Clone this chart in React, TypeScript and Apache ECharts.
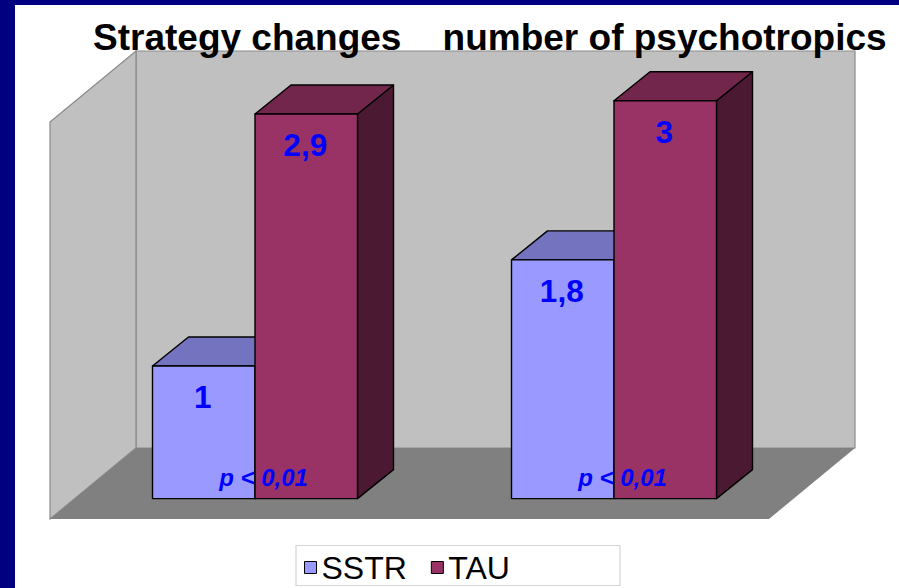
import React, { useEffect, useRef } from "react";
import * as echarts from "echarts";

const categories = ["Strategy changes", "number of psychotropics"];
const titleText = "Strategy changes    number of psychotropics";
const sstrValues = [1, 1.8];
const tauValues = [2.9, 3];
const pLabels = ["p < 0,01", "p < 0,01"];

const DEPTH_X = 36;
const DEPTH_Y = 29;
const BAR_W = 102.5;
const FONT = '"Liberation Sans", Arial, sans-serif';

const bar3d = (side: number, front: string, top: string, dark: string) => (params: any, api: any) => {
  const cat = api.value(0);
  const val = api.value(1);
  const p = api.coord([cat, val]);
  const b = api.coord([cat, 0]);
  const x0 = side < 0 ? p[0] - BAR_W : p[0];
  const x1 = x0 + BAR_W;
  const stroke = { stroke: "#000", lineWidth: 1.4, lineJoin: "round" };
  return {
    type: "group",
    children: [
      { type: "polygon", shape: { points: [[x1, p[1]], [x1 + DEPTH_X, p[1] - DEPTH_Y], [x1 + DEPTH_X, b[1] - DEPTH_Y], [x1, b[1]]] }, style: { fill: dark, ...stroke } },
      { type: "polygon", shape: { points: [[x0, p[1]], [x0 + DEPTH_X, p[1] - DEPTH_Y], [x1 + DEPTH_X, p[1] - DEPTH_Y], [x1, p[1]]] }, style: { fill: top, ...stroke } },
      { type: "rect", shape: { x: x0, y: p[1], width: BAR_W, height: b[1] - p[1] }, style: { fill: front, ...stroke } },
      {
        type: "text",
        x: (x0 + x1) / 2 - 1,
        y: p[1] + 31,
        style: { text: String(val).replace(".", ","), fill: "#0000FF", font: `bold 31.5px ${FONT}`, textAlign: "center", textVerticalAlign: "middle" },
      },
    ],
  };
};

export default function App() {
  const ref = useRef<HTMLDivElement>(null);
  useEffect(() => {
    document.body.style.margin = "0";
    const chart = echarts.init(ref.current!, undefined, { renderer: "svg" });
    const wall = "#C0C0C0";
    const edge = { stroke: "#8A8A8A", lineWidth: 1.2 };
    chart.setOption({
      animation: false,
      backgroundColor: "#FFFFFF",
      title: {
        text: titleText,
        left: 93,
        top: 19,
        padding: 0,
        textStyle: { fontFamily: FONT, fontWeight: "bold", fontSize: 37, color: "#000" },
        z: 20,
      },
      grid: { left: 75.5, top: 34.5, width: 718, height: 464.1 },
      xAxis: { type: "category", data: categories, show: false },
      yAxis: { type: "value", min: 0, max: 3.5, show: false },
      legend: {
        left: 296,
        top: 545.5,
        orient: "horizontal",
        backgroundColor: "#FFFFFF",
        borderColor: "#D4D4D4",
        borderWidth: 1.2,
        padding: [6, 110, 2, 8],
        itemWidth: 12,
        itemHeight: 12,
        itemGap: 24,
        data: [
          { name: "SSTR", icon: "rect" },
          { name: "TAU", icon: "rect" },
        ],
        textStyle: { fontFamily: FONT, fontSize: 32, color: "#000", padding: [14, 0, 0, 0] },
        itemStyle: { borderColor: "#000", borderWidth: 1 },
      },
      graphic: [
        { type: "rect", z: 0, shape: { x: 0, y: 0, width: 15, height: 588 }, style: { fill: "#000080" } },
        { type: "rect", z: 0, shape: { x: 0, y: 0, width: 899, height: 5 }, style: { fill: "#000080" } },
        { type: "polygon", z: 0, shape: { points: [[136, 51], [855, 51], [855, 448], [136, 448]] }, style: { fill: wall, ...edge } },
        { type: "polygon", z: 0, shape: { points: [[50, 122], [136, 51], [136, 448], [50, 519]] }, style: { fill: wall, ...edge } },
        { type: "polygon", z: 0, shape: { points: [[136, 448], [855, 448], [769, 519], [50, 519]] }, style: { fill: "#808080" } },
      ],
      series: [
        {
          type: "custom",
          name: "SSTR",
          coordinateSystem: "cartesian2d",
          clip: false,
          z: 3,
          itemStyle: { color: "#9999FF" },
          encode: { x: 0, y: 1 },
          data: sstrValues.map((v, i) => [i, v]),
          renderItem: bar3d(-1, "#9999FF", "#7373BF", "#4C4C80"),
        },
        {
          type: "custom",
          name: "TAU",
          coordinateSystem: "cartesian2d",
          clip: false,
          z: 4,
          itemStyle: { color: "#993366" },
          encode: { x: 0, y: 1 },
          data: tauValues.map((v, i) => [i, v]),
          renderItem: bar3d(1, "#993366", "#73264C", "#4C1933"),
        },
        {
          type: "custom",
          name: "p",
          coordinateSystem: "cartesian2d",
          clip: false,
          z: 5,
          encode: { x: 0, y: 1 },
          data: pLabels.map((_, i) => [i, 0]),
          renderItem: (params: any, api: any) => {
            const b = api.coord([api.value(0), 0]);
            return {
              type: "text",
              x: b[0] + 8.5,
              y: b[1] - 21,
              style: { text: pLabels[params.dataIndex], fill: "#0000FF", font: `italic bold 24px ${FONT}`, textAlign: "center", textVerticalAlign: "middle" },
            };
          },
        },
      ],
    });
    return () => chart.dispose();
  }, []);
  return <div ref={ref} style={{ position: "fixed", left: 0, top: 0, width: 899, height: 588 }} />;
}
